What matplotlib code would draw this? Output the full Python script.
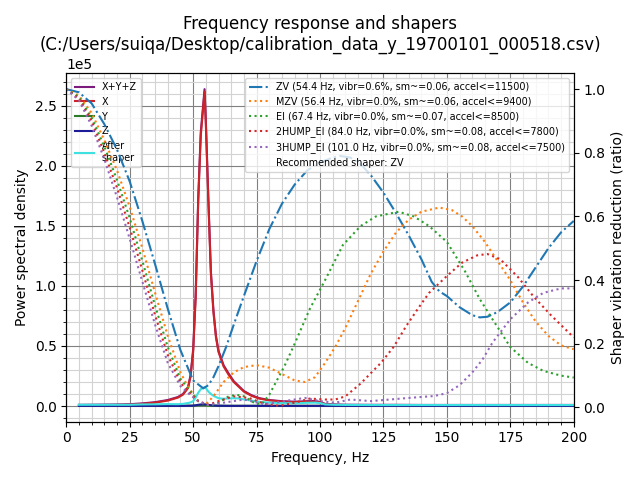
import matplotlib
matplotlib.use("Agg")
import matplotlib.pyplot as plt
import matplotlib.ticker as ticker
import matplotlib.font_manager as fm

# ---------------- data ----------------
psd_freqs = [5, 10, 15, 20, 25, 30, 35, 40, 44, 46, 48, 49, 50, 51, 52, 53,
             54.5, 55, 56, 57, 58, 59, 60, 62, 64, 66, 68, 70, 73, 76, 80,
             85, 90, 95, 98, 100, 102, 106, 110, 120, 130, 140, 150, 160,
             170, 180, 190, 200]
psd_x = [0.006, 0.007, 0.008, 0.009, 0.011, 0.018, 0.028, 0.045,
         0.07, 0.095, 0.15, 0.25, 0.45, 0.9, 1.7, 2.25,
         2.62, 2.35, 1.7, 1.1, 0.78, 0.57, 0.45,
         0.33, 0.26, 0.2, 0.16, 0.12, 0.085, 0.062, 0.047,
         0.037, 0.032, 0.035, 0.037, 0.03, 0.015, 0.01, 0.008,
         0.007, 0.007, 0.006, 0.006, 0.006, 0.006, 0.006, 0.006, 0.006]
psd_sum = [0.01, 0.011, 0.012, 0.013, 0.015, 0.022, 0.032, 0.05,
           0.075, 0.1, 0.157, 0.26, 0.47, 0.93, 1.73, 2.28,
           2.64, 2.38, 1.73, 1.12, 0.8, 0.585, 0.46,
           0.34, 0.27, 0.207, 0.166, 0.125, 0.09, 0.066, 0.05,
           0.04, 0.036, 0.04, 0.042, 0.034, 0.018, 0.013, 0.011,
           0.01, 0.01, 0.009, 0.009, 0.009, 0.009, 0.009, 0.009, 0.009]
psd_y = [0.002, 0.002, 0.002, 0.002, 0.002, 0.002, 0.002, 0.002,
         0.002, 0.002, 0.003, 0.003, 0.003, 0.004, 0.005, 0.006,
         0.006, 0.006, 0.005, 0.004, 0.003, 0.003, 0.003,
         0.002, 0.002, 0.002, 0.002, 0.002, 0.002, 0.002, 0.002,
         0.002, 0.002, 0.002, 0.002, 0.002, 0.002, 0.002, 0.002,
         0.002, 0.002, 0.002, 0.002, 0.002, 0.002, 0.002, 0.002, 0.002]
psd_z = [0.001, 0.001, 0.001, 0.001, 0.001, 0.001, 0.001, 0.001,
         0.001, 0.001, 0.002, 0.002, 0.003, 0.006, 0.01, 0.013,
         0.014, 0.013, 0.01, 0.006, 0.004, 0.003, 0.002,
         0.002, 0.001, 0.001, 0.001, 0.001, 0.001, 0.001, 0.001,
         0.001, 0.001, 0.001, 0.001, 0.001, 0.001, 0.001, 0.001,
         0.001, 0.001, 0.001, 0.001, 0.001, 0.001, 0.001, 0.001, 0.001]
psd_after = [0.01, 0.01, 0.01, 0.01, 0.01, 0.013, 0.014, 0.016,
             0.015, 0.018, 0.025, 0.03, 0.04, 0.07, 0.11, 0.14,
             0.157, 0.15, 0.12, 0.1, 0.085, 0.075, 0.065,
             0.06, 0.063, 0.065, 0.063, 0.055, 0.045, 0.035, 0.028,
             0.024, 0.022, 0.027, 0.028, 0.025, 0.013, 0.01, 0.009,
             0.008, 0.008, 0.008, 0.008, 0.008, 0.008, 0.008, 0.008, 0.008]

zv_freqs = [0, 5, 10, 15, 20, 25, 30, 35, 40, 45, 50, 54, 56, 58, 60, 63, 66,
            70, 75, 80, 85, 90, 95, 100, 105, 108, 112, 116, 120, 125, 130,
            135, 140, 144, 147, 150, 155, 160, 163, 166, 170, 175, 180, 185,
            190, 195, 200]
zv_vals = [1.0, 0.99, 0.955, 0.89, 0.81, 0.71, 0.585, 0.45, 0.31, 0.18, 0.085,
           0.06, 0.07, 0.095, 0.13, 0.19, 0.26, 0.35, 0.46, 0.56, 0.64, 0.70,
           0.745, 0.77, 0.785, 0.79, 0.785, 0.765, 0.73, 0.675, 0.61, 0.54,
           0.465, 0.395, 0.365, 0.35, 0.315, 0.29, 0.283, 0.285, 0.30, 0.33,
           0.38, 0.44, 0.50, 0.55, 0.586]

mzv_freqs = [0, 5, 10, 15, 20, 25, 30, 35, 40, 45, 48, 52, 55, 58, 62, 66, 70,
             75, 80, 85, 90, 94, 98, 102, 106, 110, 115, 120, 125, 130, 135,
             140, 147, 152, 156, 160, 165, 170, 175, 180, 185, 190, 195, 200]
mzv_vals = [1.0, 0.98, 0.925, 0.84, 0.745, 0.63, 0.5, 0.36, 0.225, 0.11,
            0.065, 0.02, 0.01, 0.035, 0.08, 0.11, 0.127, 0.133, 0.125, 0.105,
            0.085, 0.08, 0.095, 0.14, 0.19, 0.25, 0.335, 0.42, 0.49, 0.55,
            0.59, 0.615, 0.628, 0.62, 0.60, 0.57, 0.52, 0.46, 0.40, 0.33,
            0.27, 0.225, 0.195, 0.183]

ei_freqs = [0, 5, 10, 15, 20, 25, 30, 35, 40, 45, 48, 52, 56, 60, 64, 67, 70,
            74, 77, 80, 83, 86, 90, 96, 102, 109, 116, 122, 131, 137, 143, 150,
            157, 163, 168, 175, 182, 188, 195, 200]
ei_vals = [1.0, 0.975, 0.91, 0.82, 0.715, 0.595, 0.46, 0.32, 0.19, 0.09, 0.06,
           0.02, 0.005, 0.015, 0.035, 0.04, 0.035, 0.015, 0.01, 0.04, 0.085,
           0.13, 0.20, 0.31, 0.40, 0.51, 0.57, 0.60, 0.615, 0.60, 0.57, 0.52,
           0.43, 0.34, 0.277, 0.19, 0.14, 0.115, 0.10, 0.094]

hump2_freqs = [0, 5, 10, 15, 20, 25, 30, 35, 40, 45, 48, 52, 56, 60, 66, 72,
               78, 84, 90, 96, 102, 106, 110, 116, 124, 129, 134, 139, 143,
               150, 156, 162, 166, 171, 178, 184, 191, 200]
hump2_vals = [1.0, 0.97, 0.9, 0.8, 0.69, 0.565, 0.43, 0.29, 0.165, 0.078,
              0.05, 0.02, 0.008, 0.02, 0.035, 0.03, 0.012, 0.005, 0.015, 0.028,
              0.025, 0.025, 0.035, 0.075, 0.14, 0.19, 0.256, 0.315, 0.36,
              0.413, 0.455, 0.478, 0.482, 0.466, 0.41, 0.35, 0.29, 0.22]

hump3_freqs = [0, 5, 10, 15, 20, 25, 30, 35, 40, 45, 48, 52, 56, 62, 70, 78,
               86, 94, 100, 106, 112, 120, 126, 135, 145, 150, 155, 160, 164,
               168, 175, 182, 188, 195, 200]
hump3_vals = [1.0, 0.965, 0.885, 0.78, 0.66, 0.53, 0.395, 0.26, 0.14, 0.067,
              0.045, 0.02, 0.008, 0.015, 0.025, 0.01, 0.02, 0.03, 0.02, 0.015,
              0.025, 0.02, 0.024, 0.03, 0.036, 0.045, 0.07, 0.11, 0.15, 0.204,
              0.277, 0.33, 0.36, 0.374, 0.374]

shaper_labels = [
    "ZV (54.4 Hz, vibr=0.6%, sm~=0.06, accel<=11500)",
    "MZV (56.4 Hz, vibr=0.0%, sm~=0.06, accel<=9400)",
    "EI (67.4 Hz, vibr=0.0%, sm~=0.07, accel<=8500)",
    "2HUMP_EI (84.0 Hz, vibr=0.0%, sm~=0.08, accel<=7800)",
    "3HUMP_EI (101.0 Hz, vibr=0.0%, sm~=0.08, accel<=7500)",
]
recommended = "Recommended shaper: ZV"
title = ("Frequency response and shapers\n"
         "(C:/Users/suiqa/Desktop/calibration_data_y_19700101_000518.csv)")

# ---------------- plot ----------------
fontP = fm.FontProperties()
fontP.set_size('x-small')

fig, ax = plt.subplots(figsize=(6.4, 4.8), dpi=100)
ax.set_xlabel('Frequency, Hz')
ax.set_xlim([0, 200])
ax.set_ylabel('Power spectral density')

scale = 1e5
ax.plot(psd_freqs, [v * scale for v in psd_sum], label='X+Y+Z', color='#7d1a7d')
ax.plot(psd_freqs, [v * scale for v in psd_x], label='X', color='#cc2228')
ax.plot(psd_freqs, [v * scale for v in psd_y], label='Y', color='#2a7a2a')
ax.plot(psd_freqs, [v * scale for v in psd_z], label='Z', color='#1c1c96')

ax.set_title(title)
ax.xaxis.set_minor_locator(ticker.MultipleLocator(5))
ax.yaxis.set_minor_locator(ticker.AutoMinorLocator())
ax.ticklabel_format(axis='y', style='scientific', scilimits=(0, 0))
ax.grid(which='major', color='grey')
ax.grid(which='minor', color='lightgrey')

ax2 = ax.twinx()
ax2.set_ylabel('Shaper vibration reduction (ratio)')
series = [(zv_freqs, zv_vals, 'dashdot'),
          (mzv_freqs, mzv_vals, 'dotted'),
          (ei_freqs, ei_vals, 'dotted'),
          (hump2_freqs, hump2_vals, 'dotted'),
          (hump3_freqs, hump3_vals, 'dotted')]
colors = ['#1f77b4', '#ff7f0e', '#2ca02c', '#d62728', '#9467bd']
for (fr, vals, ls), lab, c in zip(series, shaper_labels, colors):
    ax2.plot(fr, vals, label=lab, linestyle=ls, color=c)
ax.plot(psd_freqs, [v * scale for v in psd_after], label='After\nshaper',
        color='#3fe0e0')
ax2.plot([], [], ' ', label=recommended)

ax.legend(loc='upper left', prop=fontP)
ax2.legend(loc='upper right', prop=fontP)

fig.tight_layout()
fig.savefig('out.png', dpi=100)
